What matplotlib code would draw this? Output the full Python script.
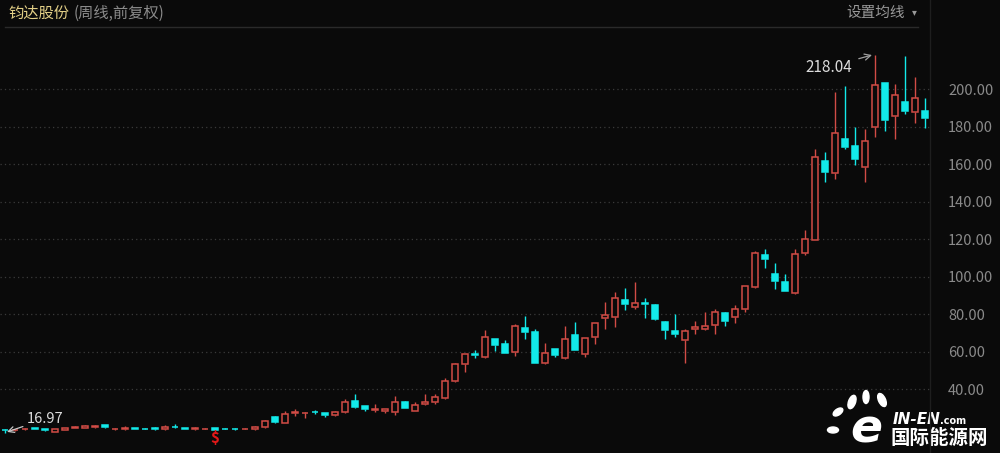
import matplotlib
matplotlib.use("Agg")
import matplotlib.pyplot as plt
from matplotlib.lines import Line2D
from matplotlib.patches import Ellipse
import numpy as np

plt.rcParams["font.family"] = ["Noto Sans CJK SC", "DejaVu Sans"]

# weekly candles (front-adjusted)
opens = [18.4, 18.2, 18.7, 19.3, 18.8, 17.2, 18.3, 19.5, 19.4, 20.0,
         20.8, 18.8, 19.1, 19.3, 19.0, 19.3, 18.7, 20.1, 19.3, 18.7,
         18.9, 19.2, 19.0, 18.9, 18.8, 18.6, 19.7, 25.5, 22.1, 27.6,
         27.2, 27.9, 27.3, 26.3, 27.8, 34.0, 31.1, 29.2, 28.4, 27.8,
         33.5, 28.4, 32.2, 33.3, 35.2, 44.5, 53.3, 58.8, 57.1, 66.8,
         64.1, 59.8, 72.8, 70.4, 53.9, 61.5, 56.5, 68.9, 58.9, 68.1,
         77.8, 78.7, 87.6, 84.0, 86.0, 85.0, 76.0, 71.3, 66.3, 72.0,
         72.3, 74.3, 80.9, 78.4, 82.6, 94.3, 111.6, 101.4, 97.0, 91.2,
         112.8, 119.6, 161.8, 155.1, 173.4, 169.6, 158.6, 179.6, 203.0, 185.6,
         192.9, 187.9, 188.4]
highs = [18.7, 18.8, 19.3, 19.6, 19.0, 18.8, 19.4, 20.4, 20.8, 21.0,
         21.0, 19.2, 20.6, 19.6, 19.2, 20.0, 20.8, 21.4, 19.5, 20.0,
         19.3, 19.4, 19.2, 19.2, 19.2, 20.2, 23.4, 25.8, 28.5, 29.4,
         28.0, 29.0, 27.5, 28.3, 34.7, 37.3, 31.3, 32.1, 29.6, 36.3,
         33.7, 33.5, 37.3, 37.3, 46.0, 53.8, 58.8, 61.2, 71.8, 67.0,
         66.5, 74.9, 78.8, 72.2, 64.8, 61.7, 73.5, 75.6, 67.4, 75.4,
         86.7, 91.7, 93.9, 97.0, 88.9, 85.2, 76.2, 80.0, 72.2, 76.6,
         81.0, 82.8, 81.1, 84.9, 95.2, 113.5, 114.5, 107.1, 101.4, 114.9,
         124.9, 167.9, 166.4, 198.2, 201.6, 179.7, 178.8, 218.04, 203.3, 202.7,
         217.6, 206.6, 195.0]
lows = [16.97, 17.9, 18.4, 18.9, 18.0, 17.0, 18.1, 19.3, 19.2, 19.5,
        19.5, 18.5, 18.5, 18.9, 18.7, 18.5, 18.5, 19.3, 19.0, 18.5,
        18.7, 18.2, 18.7, 18.5, 18.6, 18.4, 19.5, 22.2, 21.8, 25.8,
        24.6, 26.8, 25.3, 26.0, 27.5, 30.2, 28.6, 27.8, 27.3, 26.5,
        29.8, 28.2, 31.8, 32.1, 35.0, 44.0, 49.0, 56.5, 56.8, 60.5,
        59.4, 57.9, 66.9, 54.0, 53.6, 57.2, 56.3, 60.7, 57.2, 64.3,
        72.2, 73.4, 82.4, 82.8, 78.2, 77.1, 66.9, 67.7, 54.2, 69.5,
        71.7, 69.5, 73.5, 75.5, 81.2, 94.0, 104.9, 93.3, 92.3, 90.8,
        111.3, 119.4, 150.6, 152.3, 167.8, 159.6, 150.6, 174.5, 177.8, 173.4,
        186.7, 182.1, 179.1]
closes = [18.2, 18.5, 19.0, 19.1, 18.1, 18.7, 19.3, 19.7, 20.2, 20.6,
          19.7, 19.0, 19.3, 19.1, 18.8, 19.1, 20.0, 19.9, 19.1, 19.2,
          19.1, 18.4, 18.8, 18.7, 19.0, 19.8, 23.3, 22.4, 26.9, 27.9,
          27.4, 27.7, 26.2, 28.1, 33.0, 30.8, 29.5, 29.4, 29.5, 33.3,
          30.0, 31.7, 33.3, 35.9, 44.5, 53.3, 58.6, 58.5, 67.7, 63.6,
          59.6, 73.6, 70.6, 54.2, 59.2, 58.3, 66.7, 60.9, 67.2, 75.2,
          79.4, 88.5, 85.3, 85.8, 85.7, 77.3, 71.6, 69.5, 71.3, 73.0,
          73.9, 81.4, 76.6, 82.8, 95.0, 112.8, 109.6, 97.9, 92.5, 112.1,
          119.9, 164.0, 155.6, 176.8, 169.3, 162.5, 172.5, 202.1, 183.5, 196.8,
          188.4, 195.4, 184.4]
price_ticks = [40, 60, 80, 100, 120, 140, 160, 180, 200]

bg = "#0a0a0a"
red = "#d24c46"
cyan = "#12eaea"

W, H = 1000, 453
fig = plt.figure(figsize=(10, 4.53), dpi=100, facecolor=bg)
ax = fig.add_axes([0, 0, 0.93, (H - 28) / H])
ax.set_facecolor(bg)

o = np.array(opens); h = np.array(highs); l = np.array(lows); c = np.array(closes)
x = np.arange(len(o))
up = c >= o
top = np.maximum(o, c)
bot = np.minimum(o, c)
col = np.where(up, red, cyan)

ax.vlines(x, top, h, colors=col, linewidth=1.0, zorder=2)
ax.vlines(x, l, bot, colors=col, linewidth=1.0, zorder=2)
height = np.maximum(top - bot, 0.05)
face = np.where(up, bg, cyan)
ax.bar(x, height, bottom=bot, width=0.68, color=face, edgecolor=col,
       linewidth=1.1, zorder=3)

ax.set_xlim(-0.5, 92.5)
ax.set_ylim(6.07, 232.5)
ax.set_yticks(price_ticks)
ax.set_yticklabels([f"{t:.2f}" for t in price_ticks])
ax.yaxis.tick_right()
ax.tick_params(axis="y", length=0, pad=13, labelcolor="#8a8a8a", labelsize=10.5)
ax.set_xticks([])
ax.grid(axis="y", color="#3a3a3a", linestyle=(0, (1, 2.5)), linewidth=0.9)
for s in ["top", "left", "bottom", "right"]:
    ax.spines[s].set_visible(False)

# max / min annotations
ax.annotate("218.04", xy=(86.7, 218.1), xytext=(84.7, 211.7), color="#dcdcdc",
            fontsize=11, ha="right", va="center",
            arrowprops=dict(arrowstyle="->", color="#a0a0a0", lw=0.9,
                            shrinkA=3, shrinkB=0))
ax.annotate("16.97", xy=(0.2, 17.3), xytext=(2.2, 24.2), color="#dcdcdc",
            fontsize=10.5, ha="left", va="center", zorder=5,
            arrowprops=dict(arrowstyle="->", color="#c8c8c8", lw=0.9,
                            shrinkA=1, shrinkB=0))
ax.text(21, 14.0, "\\$", color="#e01818", fontsize=11, fontweight="bold",
        ha="center", va="center")

# header
def fx(px):
    return px / W

def fy(py):
    return 1 - py / H

fig.text(fx(8), fy(13), "钧达股份", color="#e2cf86", fontsize=11, va="center")
fig.text(fx(74), fy(13), "(周线,前复权)", color="#8a8a8a", fontsize=11, va="center")
fig.text(fx(905), fy(13), "设置均线", color="#9a9a9a", fontsize=10.5,
         va="center", ha="right")
fig.text(fx(914), fy(12), "▾", color="#9a9a9a", fontsize=7, va="center",
         ha="center", family="DejaVu Sans")
fig.add_artist(Line2D([fx(5), fx(918)], [fy(27), fy(27)], color="#2a2a2a", lw=1))
fig.add_artist(Line2D([fx(930), fx(930)], [0, 1], color="#1e1e1e", lw=1))

# watermark
wax = fig.add_axes([0, 0, 1, 1], facecolor="none")
wax.set_xlim(0, W); wax.set_ylim(H, 0); wax.axis("off")
for (ex, ey, ew, eh, ang) in [(852, 402, 7, 14, 20), (866, 397, 6, 13, 0),
                              (882, 400, 7, 14, -25), (838, 412, 6, 11, 55),
                              (833, 430, 11, 6, 0)]:
    wax.add_patch(Ellipse((ex, ey), ew, eh, angle=ang, color="white"))
wax.text(866, 430, "e", color="white", fontsize=34, fontweight="bold",
         fontstyle="italic", ha="center", va="center", family="DejaVu Sans")
wax.text(893, 420, "IN-EN", color="white", fontsize=11, fontweight="bold",
         fontstyle="italic", ha="left", va="center", family="DejaVu Sans")
wax.text(940, 421, ".com", color="white", fontsize=7, fontweight="bold",
         ha="left", va="center", family="DejaVu Sans")
wax.text(891, 438, "国际能源网", color="white", fontsize=14, fontweight="bold",
         ha="left", va="center")

fig.savefig("out.png", dpi=100, facecolor=bg)
